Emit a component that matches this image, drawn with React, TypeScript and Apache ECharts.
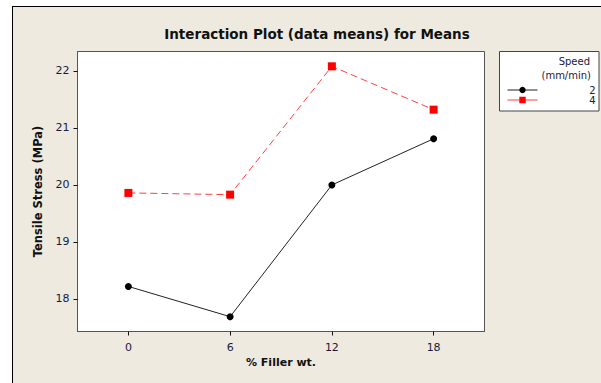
import React, { useEffect, useRef } from "react";
import * as echarts from "echarts";

const fillerLevels = [0, 6, 12, 18];
const xTicks = [0, 6, 12, 18];
const yTicks = [18, 19, 20, 21, 22];
const speed2 = [18.22, 17.69, 20.0, 20.81];
const speed4 = [19.86, 19.83, 22.08, 21.32];
const seriesNames = ["2", "4"];

export default function App() {
  const ref = useRef<HTMLDivElement>(null);
  useEffect(() => {
    if (!ref.current) return;
    const chart = echarts.init(ref.current, null, { renderer: "svg" });
    const font = "DejaVu Sans";
    chart.setOption({
      animation: false,
      backgroundColor: "transparent",
      textStyle: { fontFamily: font },
      title: {
        text: "Interaction Plot (data means) for Means",
        left: 312,
        textAlign: "center",
        top: 22,
        textStyle: { fontFamily: font, fontSize: 13.5, fontWeight: "bold", color: "#111111" },
      },
      graphic: [
        {
          type: "rect",
          z: -5,
          shape: { x: 499.5, y: 51.5, width: 99.5, height: 59.5 },
          style: { fill: "#ffffff", stroke: "#444444", lineWidth: 1 },
          silent: true,
        },
        {
          type: "text",
          x: 590,
          y: 61,
          style: { text: "Speed", fill: "#1a1a3a", font: `10px "${font}"`, textAlign: "right", textVerticalAlign: "middle" },
        },
        {
          type: "text",
          x: 591,
          y: 75,
          style: { text: "(mm/min)", fill: "#1a1a3a", font: `10px "${font}"`, textAlign: "right", textVerticalAlign: "middle" },
        },
      ],
      legend: {
        left: 502,
        top: 80,
        orient: "vertical",
        itemWidth: 30,
        itemHeight: 8,
        itemGap: 0,
        data: seriesNames,
        lineStyle: { type: "solid", width: 1 },
        formatter: "{n|{name}}",
        textStyle: {
          fontFamily: font,
          fontSize: 10,
          color: "#1a1a3a",
          rich: { n: { width: 53, lineHeight: 13, align: "right", fontFamily: font, fontSize: 10, color: "#1a1a3a" } },
        },
      },
      grid: {
        left: 77.5,
        top: 51.5,
        width: 407,
        height: 280,
        show: true,
        backgroundColor: "#ffffff",
        borderColor: "#555555",
        borderWidth: 1,
      },
      xAxis: {
        type: "value",
        min: -3,
        max: 21,
        name: "% Filler wt.",
        nameLocation: "middle",
        nameGap: 24,
        nameTextStyle: { fontFamily: font, fontSize: 11, fontWeight: "bold", color: "#111111", verticalAlign: "top" },
        axisLine: { show: true, onZero: false, lineStyle: { color: "#555555" } },
        splitLine: { show: false },
        axisTick: { show: true, inside: false, length: 4, lineStyle: { color: "#111111", width: 1 }, customValues: xTicks },
        axisLabel: { show: true, color: "#1a1a3a", fontSize: 11, fontFamily: font, margin: 10, customValues: xTicks },
      },
      yAxis: {
        type: "value",
        min: 17.43,
        max: 22.34,
        name: "Tensile Stress (MPa)",
        nameLocation: "middle",
        nameGap: 34,
        nameRotate: 90,
        nameTextStyle: { fontFamily: font, fontSize: 11.5, fontWeight: "bold", color: "#111111" },
        axisLine: { show: true, onZero: false, lineStyle: { color: "#555555" } },
        splitLine: { show: false },
        axisTick: { show: true, inside: false, length: 4, lineStyle: { color: "#111111", width: 1 }, customValues: yTicks },
        axisLabel: { show: true, color: "#1a1a3a", fontSize: 11, fontFamily: font, margin: 8, customValues: yTicks },
      },
      series: [
        {
          name: seriesNames[0],
          type: "line",
          data: fillerLevels.map((x, i) => [x, speed2[i]]),
          symbol: "circle",
          symbolSize: 7,
          itemStyle: { color: "#000000" },
          lineStyle: { color: "#222222", width: 1 },
        },
        {
          name: seriesNames[1],
          type: "line",
          data: fillerLevels.map((x, i) => [x, speed4[i]]),
          symbol: "rect",
          symbolSize: 8,
          itemStyle: { color: "#ff0000" },
          lineStyle: { color: "#ff4040", width: 1, type: [7, 4] },
        },
      ],
    });
    return () => chart.dispose();
  }, []);
  return (
    <div style={{ position: "fixed", left: 0, top: 0, width: 601, height: 383, background: "#ffffff", overflow: "hidden" }}>
      <div
        style={{
          position: "absolute",
          left: 12,
          top: 6,
          right: -10,
          bottom: -10,
          background: "#EEEAE0",
          borderLeft: "1.5px solid #000000",
          borderTop: "1.5px solid #000000",
        }}
      />
      <div ref={ref} style={{ position: "absolute", left: 0, top: 0, width: 601, height: 383 }} />
    </div>
  );
}
